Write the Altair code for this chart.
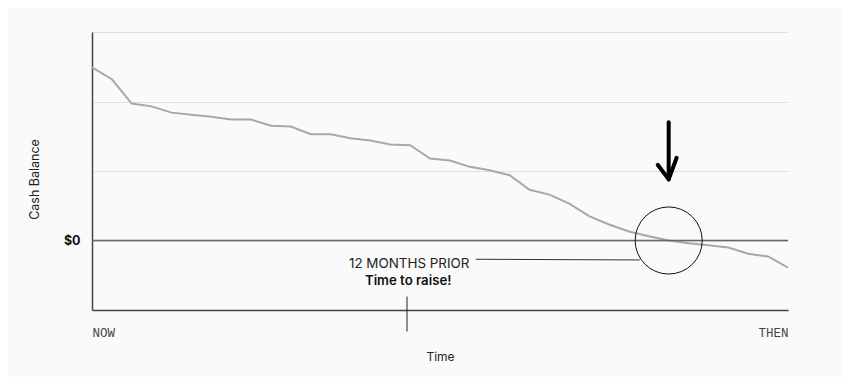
import altair as alt
import pandas as pd

# Cash balance series (index = period, value in arbitrary units; 0 = $0)
periods = list(range(36))
balance = [2.49, 2.32, 1.97, 1.93, 1.84, 1.81, 1.78, 1.74, 1.74, 1.65,
           1.64, 1.53, 1.53, 1.47, 1.44, 1.38, 1.37, 1.18, 1.15, 1.06,
           1.01, 0.94, 0.73, 0.66, 0.53, 0.35, 0.23, 0.13, 0.06, 0.00,
           -0.04, -0.07, -0.10, -0.19, -0.23, -0.39]

x_ticks = [0, 35]
x_tick_labels = ["NOW", "THEN"]
y_ticks = [-1, 0, 1, 2, 3]

# annotation anchors (data units)
zero_cross_x = 29.0
raise_x = 15.84
leader = {"x": 19.3, "x2": 27.55, "y": -0.27, "y2": -0.28}
label1 = "12 MONTHS PRIOR"
label2 = "Time to raise!"

df = pd.DataFrame({"t": periods, "cash": balance})

xs = alt.Scale(domain=[0, 35], nice=False, zero=False)
ys = alt.Scale(domain=[-1, 3], nice=False, zero=False)

lbl_expr = "datum.value == 0 ? 'NOW' : (datum.value == 35 ? 'THEN' : '')"

base_x = alt.X("t:Q", scale=xs, title="Time",
               axis=alt.Axis(values=x_ticks, labelExpr=lbl_expr, ticks=False, grid=False,
                             domainColor="#444", domainWidth=1.5,
                             labelFont="Liberation Mono", labelFontSize=12.5, labelColor="#444",
                             labelFlush=True, labelPadding=16,
                             titleFont="Inter", titleFontSize=12, titleFontWeight="normal",
                             titleColor="#222", titleY=41, titleBaseline="top"))
base_y = alt.Y("cash:Q", scale=ys, title="Cash Balance",
               axis=alt.Axis(values=y_ticks,
                             labelExpr="datum.value == 0 ? '$0' : ''",
                             ticks=False, grid=True, gridColor="#e0e0e0", gridWidth=1.2,
                             domainColor="#444", domainWidth=1.5,
                             labelFont="Inter", labelFontSize=12.5, labelFontWeight="bold",
                             labelColor="#111", labelPadding=12,
                             titleFont="Inter", titleFontSize=12.5, titleFontWeight="normal",
                             titleColor="#222", titleX=-51, titleY=147, titleBaseline="bottom"))

line = alt.Chart(df).mark_line(color="#a8a8a8", strokeWidth=2).encode(x=base_x, y=base_y)

zero_rule = alt.Chart(pd.DataFrame({"y": [0]})).mark_rule(color="#666", strokeWidth=1.5).encode(
    y=alt.Y("y:Q", scale=ys))

circle = alt.Chart(pd.DataFrame({"x": [zero_cross_x], "y": [0]})).mark_point(
    shape="circle", filled=False, color="#111", strokeWidth=1, size=4500, opacity=1).encode(
    x=alt.X("x:Q", scale=xs), y=alt.Y("y:Q", scale=ys))

leader_rule = alt.Chart(pd.DataFrame([leader])).mark_rule(color="#333", strokeWidth=1).encode(
    x=alt.X("x:Q", scale=xs), x2="x2:Q", y=alt.Y("y:Q", scale=ys), y2="y2:Q")

tick_rule = alt.Chart(pd.DataFrame({"x": [raise_x], "y": [-0.806], "y2": [-1.31]})).mark_rule(
    color="#222", strokeWidth=1).encode(
    x=alt.X("x:Q", scale=xs), y=alt.Y("y:Q", scale=ys), y2="y2:Q")

arrow = pd.DataFrame({
    "x": [29.0, 28.45, 29.4],
    "y": [1.70, 1.09, 1.19],
    "x2": [29.0, 29.0, 29.0],
    "y2": [0.90, 0.88, 0.88],
})
arrow_rules = alt.Chart(arrow).mark_rule(color="#000", strokeWidth=4, strokeCap="round").encode(
    x=alt.X("x:Q", scale=xs), y=alt.Y("y:Q", scale=ys), x2="x2:Q", y2="y2:Q")

text1 = alt.Chart(pd.DataFrame({"x": [15.95], "y": [-0.335], "s": [label1]})).mark_text(
    font="Inter", fontSize=13.4, color="#222", align="center", baseline="middle").encode(
    x=alt.X("x:Q", scale=xs), y=alt.Y("y:Q", scale=ys), text="s:N")
text2 = alt.Chart(pd.DataFrame({"x": [15.9], "y": [-0.58], "s": [label2]})).mark_text(
    font="Inter", fontSize=13.2, fontWeight=600, color="#111", align="center",
    baseline="middle").encode(
    x=alt.X("x:Q", scale=xs), y=alt.Y("y:Q", scale=ys), text="s:N")

chart = alt.layer(line, zero_rule, circle, leader_rule, tick_rule, arrow_rules, text1, text2).properties(
    width=696, height=278,
    autosize=alt.AutoSizeParams(type="none"),
    padding={"left": 84, "top": 24, "right": 55, "bottom": 67},
    background="#fafafa",
).configure_view(stroke=None)

chart.save("out.html", embed_options={"renderer": "svg", "actions": False})
